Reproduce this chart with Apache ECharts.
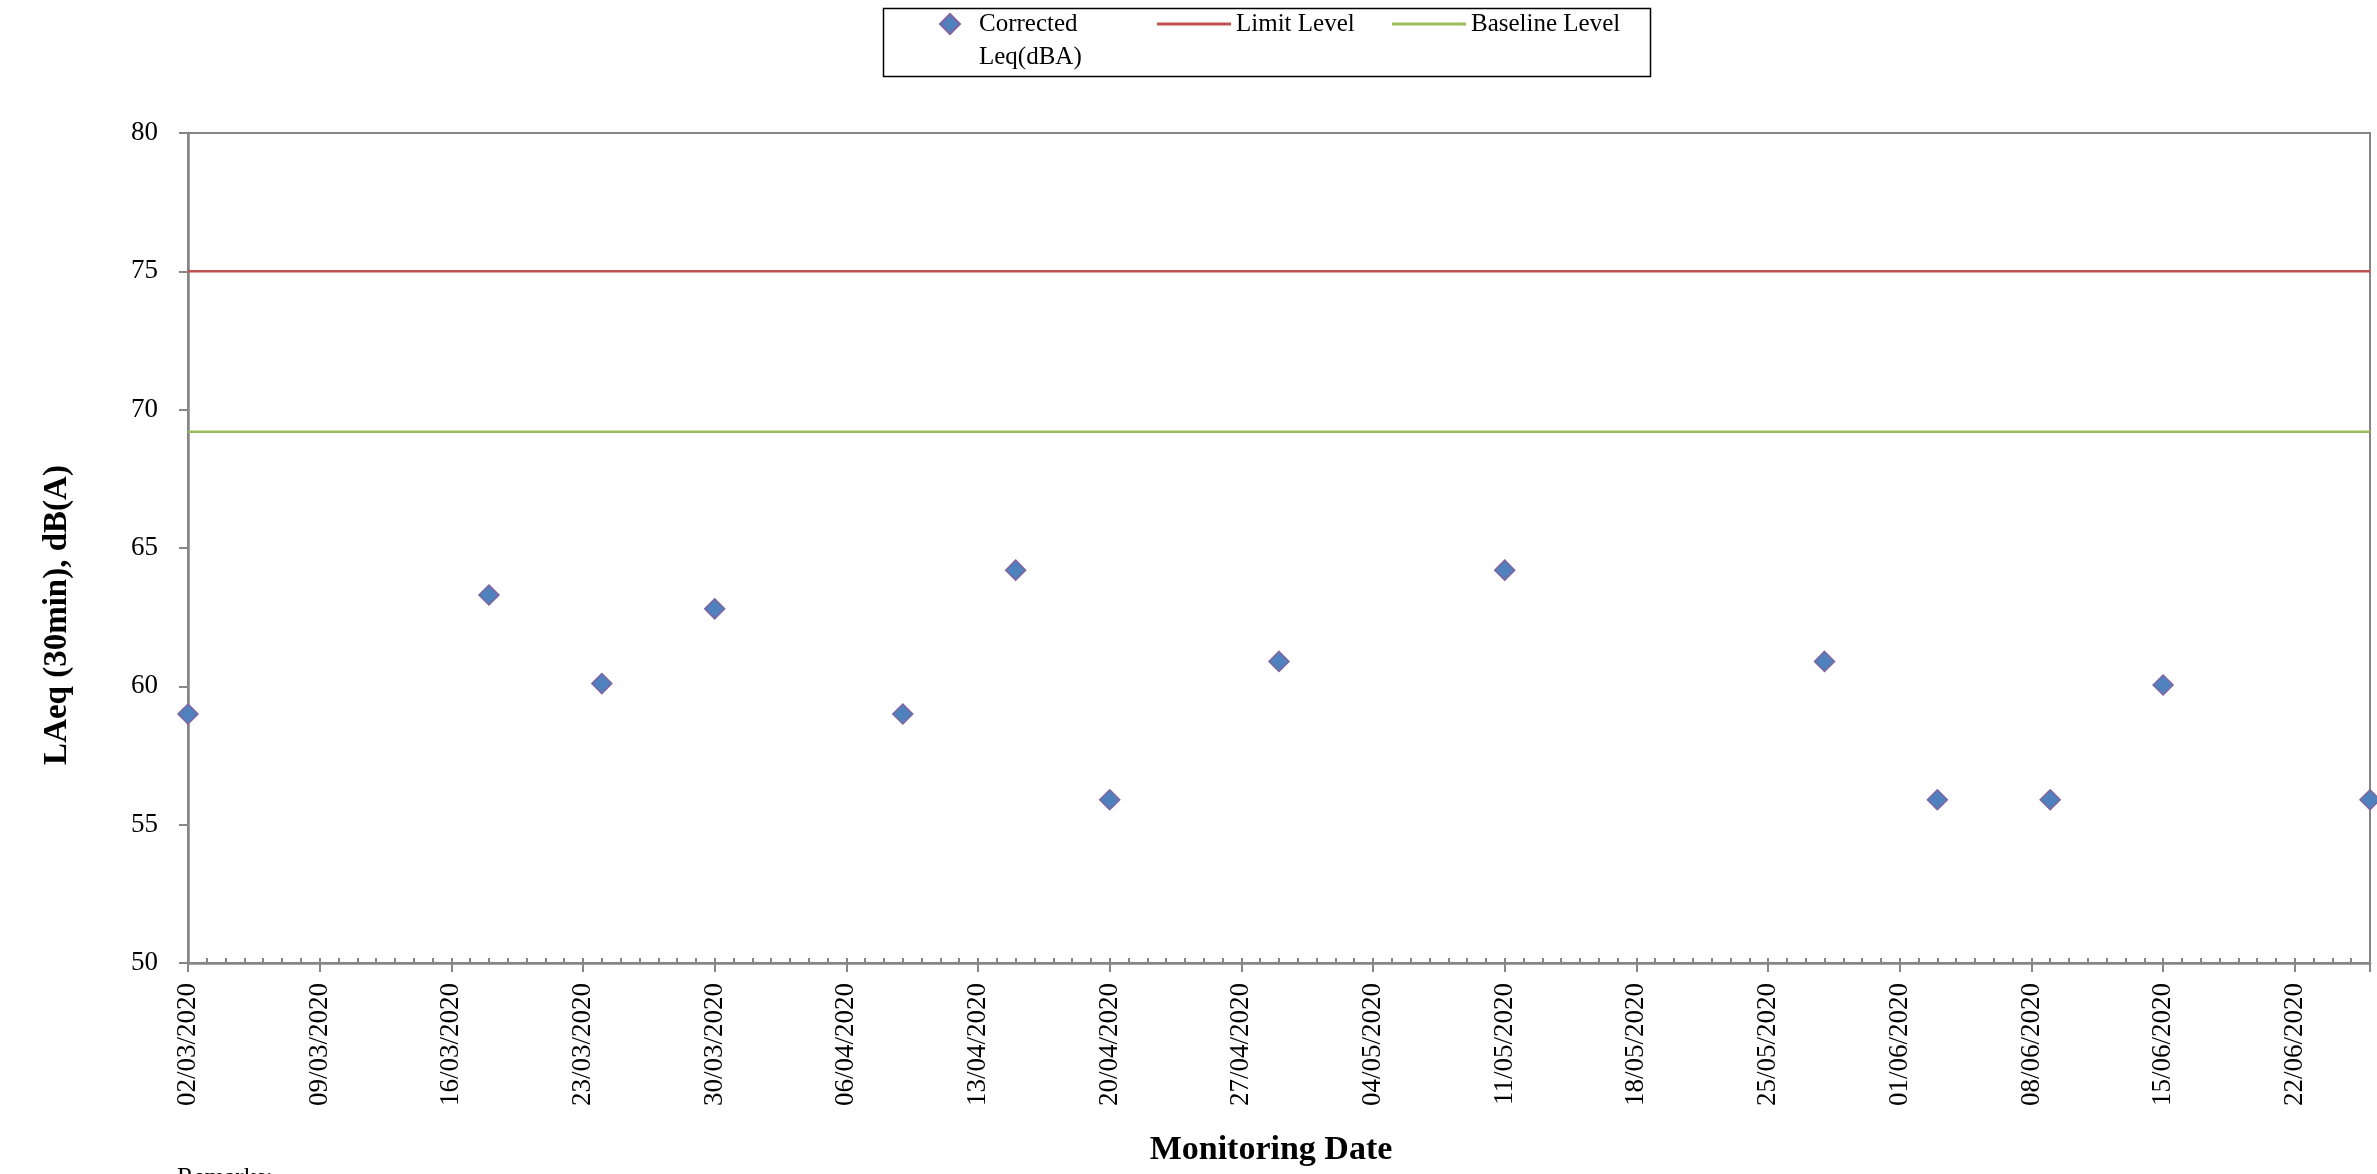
<!DOCTYPE html>
<html>
<head>
<meta charset="utf-8">
<script src="https://cdn.jsdelivr.net/npm/echarts@6/dist/echarts.min.js"></script>
<style>
html,body{margin:0;padding:0;background:#fff;}
#chart{width:2377px;height:1174px;}
</style>
</head>
<body>
<div id="chart"></div>
<script>
// ---- data ----
const startDate = '02/03/2020';
const endDate = '26/06/2020';
const monitoringDates = ['02/03/2020','18/03/2020','24/03/2020','30/03/2020','09/04/2020','15/04/2020','20/04/2020',
  '29/04/2020','11/05/2020','28/05/2020','03/06/2020','09/06/2020','15/06/2020','26/06/2020'];
const correctedLeq = [59.0, 63.3, 60.1, 62.8, 59.0, 64.2, 55.9, 60.9, 64.2, 60.9, 55.9, 55.9, 60.05, 55.9];
const limitLevel = 75;
const baselineLevel = 69.2;
const xTickLabels = ['02/03/2020','09/03/2020','16/03/2020','23/03/2020','30/03/2020','06/04/2020','13/04/2020',
  '20/04/2020','27/04/2020','04/05/2020','11/05/2020','18/05/2020','25/05/2020','01/06/2020','08/06/2020',
  '15/06/2020','22/06/2020'];
const yTicks = [50, 55, 60, 65, 70, 75, 80];

// ---- helpers ----
function parseDate(s){ const p = s.split('/'); return Date.UTC(+p[2], +p[1]-1, +p[0]); }
const DAY = 86400000;
const t0 = parseDate(startDate);
function dayOffset(s){ return Math.round((parseDate(s) - t0) / DAY); }
const xMax = dayOffset(endDate);

const scatterData = monitoringDates.map((d, i) => [dayOffset(d), correctedLeq[i]]);
const rangeDates = [startDate, endDate];
const limitData = rangeDates.map(d => [dayOffset(d), limitLevel]);
const baselineData = rangeDates.map(d => [dayOffset(d), baselineLevel]);

const FONT = '"Liberation Serif", "Times New Roman", serif';
const AXIS_GREY = '#868686';

const chart = echarts.init(document.getElementById('chart'), null, {renderer: 'canvas'});
chart.setOption({
  animation: false,
  backgroundColor: '#ffffff',
  textStyle: {fontFamily: FONT, color: '#000'},
  grid: {left: 188, right: 7, top: 133, bottom: 211, show: true, borderColor: AXIS_GREY, borderWidth: 2, backgroundColor: 'transparent'},
  legend: [
    {
      left: 939, top: -25.5, padding: 0, itemWidth: 20, itemHeight: 20,
      data: [{name: 'Corrected Leq(dBA)', icon: 'diamond'}],
      formatter: () => '\nCorrected\nLeq(dBA)',
      textStyle: {fontFamily: FONT, fontSize: 25, color: '#000', lineHeight: 33, padding: [0, 0, 0, 14]},
      selectedMode: false
    },
    {
      left: 1157, top: 7.5, padding: 0, itemWidth: 74, itemHeight: 3,
      data: [{name: 'Limit Level', icon: 'rect'}],
      textStyle: {fontFamily: FONT, fontSize: 25, color: '#000', lineHeight: 33},
      selectedMode: false
    },
    {
      left: 1392, top: 7.5, padding: 0, itemWidth: 74, itemHeight: 3,
      data: [{name: 'Baseline Level', icon: 'rect'}],
      textStyle: {fontFamily: FONT, fontSize: 25, color: '#000', lineHeight: 33},
      selectedMode: false
    }
  ],
  graphic: [
    {type: 'rect', left: 881, top: 6, shape: {width: 767, height: 68}, style: {fill: 'none', stroke: '#000', lineWidth: 1.5}, silent: true},
    {type: 'text', left: 177, top: 1166, style: {text: 'Remarks:', font: '25px ' + FONT, fill: '#000'}, silent: true}
  ],
  xAxis: [
    {
      type: 'value', min: 0, max: xMax, interval: 7, position: 'bottom',
      name: 'Monitoring Date', nameLocation: 'middle', nameGap: 170,
      nameTextStyle: {fontFamily: FONT, fontSize: 34, fontWeight: 'bold', color: '#000', padding: [0, 16, 0, 0]},
      axisLine: {show: true, onZero: false, lineStyle: {color: AXIS_GREY, width: 2.5}},
      axisTick: {show: true, inside: false, length: 9, lineStyle: {color: AXIS_GREY, width: 2}},
      axisLabel: {
        rotate: 90, margin: 20, fontFamily: FONT, fontSize: 27, color: '#000',
        formatter: v => (v % 7 === 0 && xTickLabels[v / 7]) ? xTickLabels[v / 7] : ''
      },
      splitLine: {show: false}
    },
    {
      type: 'value', min: 0, max: xMax, interval: 1, position: 'bottom', offset: 0,
      axisLine: {show: false, onZero: false},
      axisTick: {show: true, inside: true, length: 5, lineStyle: {color: AXIS_GREY, width: 2}},
      axisLabel: {show: false},
      splitLine: {show: false}
    }
  ],
  yAxis: {
    type: 'value', min: yTicks[0], max: yTicks[yTicks.length - 1], interval: 5,
    name: 'LAeq (30min), dB(A)', nameLocation: 'middle', nameGap: 114, nameRotate: 90,
    nameTextStyle: {fontFamily: FONT, fontSize: 33, fontWeight: 'bold', color: '#000', padding: [0, 134, 0, 0]},
    axisLine: {show: true, lineStyle: {color: AXIS_GREY, width: 2.5}},
    axisTick: {show: true, inside: false, length: 9, lineStyle: {color: AXIS_GREY, width: 2}},
    axisLabel: {margin: 30, fontFamily: FONT, fontSize: 27, color: '#000'},
    splitLine: {show: false}
  },
  series: [
    {
      name: 'Limit Level', type: 'line', xAxisIndex: 0, data: limitData,
      symbol: 'none', lineStyle: {color: '#C0504D', width: 2.5}, itemStyle: {color: '#C0504D'},
      silent: true, z: 2
    },
    {
      name: 'Baseline Level', type: 'line', xAxisIndex: 0, data: baselineData,
      symbol: 'none', lineStyle: {color: '#9BBB59', width: 2.5}, itemStyle: {color: '#9BBB59'},
      silent: true, z: 2
    },
    {
      name: 'Corrected Leq(dBA)', type: 'scatter', xAxisIndex: 0, data: scatterData,
      symbol: 'diamond', symbolSize: [20, 20], clip: false,
      itemStyle: {color: '#4F81BD', borderColor: '#8064A2', borderWidth: 1.5, opacity: 1},
      z: 3
    }
  ]
});
</script>
</body>
</html>
